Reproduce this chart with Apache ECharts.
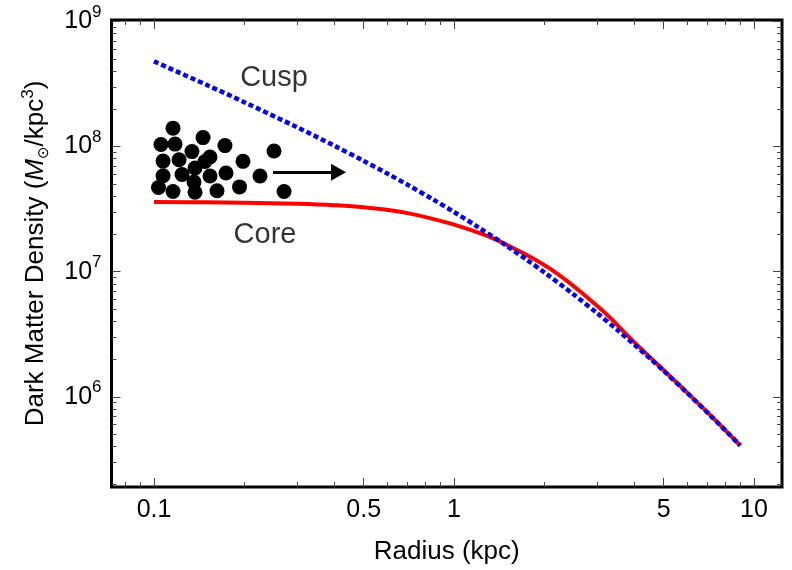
<!DOCTYPE html>
<html>
<head>
<meta charset="utf-8">
<script src="https://cdn.jsdelivr.net/npm/echarts@6/dist/echarts.min.js"></script>
<style>html,body{margin:0;padding:0;background:#fff;}#c{width:792px;height:570px;}</style>
</head>
<body>
<div id="c"></div>
<script>
// ---- data ----
const cuspRadius = [0.1, 0.15, 0.2, 0.3, 0.4, 0.5, 0.6, 0.7, 0.85, 1.0, 1.2, 1.5, 1.75, 2.0, 2.5, 3.0, 3.5, 4.0, 4.5, 5, 6, 7, 8, 9];
const cuspDensity = [4.80e8, 3.108e8, 2.265e8, 1.427e8, 1.013e8, 7.685e7, 6.08e7, 4.954e7, 3.79e7, 3.001e7, 2.283e7, 1.6055e7, 1.2433e7, 9.877e6, 6.598e6, 4.66e6, 3.428e6, 2.603e6, 2.027e6, 1.611e6, 1.069e6, 7.47e5, 5.43e5, 4.08e5];
const coreRadius = [0.1, 0.15, 0.2, 0.3, 0.4, 0.5, 0.7, 1.0, 1.2, 1.42, 2.09, 3.07, 3.95, 5.0, 6, 7, 8, 9];
const coreDensity = [3.61e7, 3.59e7, 3.56e7, 3.49e7, 3.40e7, 3.27e7, 2.94e7, 2.38e7, 2.06e7, 1.75e7, 1.057e7, 5.07e6, 2.80e6, 1.63e6, 1.075e6, 7.5e5, 5.44e5, 4.08e5];
const dotRadius = [0.1157, 0.1055, 0.1175, 0.1457, 0.1724, 0.1338, 0.1072, 0.1212, 0.1537, 0.1479, 0.1980, 0.2512, 0.1072, 0.1240, 0.1370, 0.1537, 0.1738, 0.2256, 0.1035, 0.1157, 0.1359, 0.1370, 0.1622, 0.1928, 0.2713];
const dotDensity = [1.404e8, 1.038e8, 1.047e8, 1.18e8, 1.018e8, 9.12e7, 7.66e7, 7.85e7, 8.25e7, 7.60e7, 7.62e7, 9.21e7, 5.85e7, 5.98e7, 6.74e7, 5.82e7, 6.15e7, 5.82e7, 4.71e7, 4.38e7, 5.21e7, 4.32e7, 4.44e7, 4.76e7, 4.38e7];
const arrowFrom = [0.2492, 6.24e7];
const arrowTo = [0.4121, 6.24e7];
const annotations = [[0.2512, 3.546e8, 'Cusp'], [0.2344, 1.954e7, 'Core']];
const xLabelValues = [0.1, 0.5, 1, 5, 10];
const xMinorValues = [0.08, 0.09, 0.2, 0.3, 0.4, 0.6, 0.7, 0.8, 0.9, 2, 3, 4, 6, 7, 8, 9];
const yLabelValues = [1e6, 1e7, 1e8, 1e9];
const yMinorValues = [2e5,3e5,4e5,5e5,6e5,7e5,8e5,9e5,2e6,3e6,4e6,5e6,6e6,7e6,8e6,9e6,2e7,3e7,4e7,5e7,6e7,7e7,8e7,9e7,2e8,3e8,4e8,5e8,6e8,7e8,8e8,9e8];

const X_MIN = 0.07216, X_MAX = 12.40, Y_MIN = 1.90e5, Y_MAX = 1.028e9;
const FONT = '"Liberation Sans", Arial, "DejaVu Sans", sans-serif';
const TXT = '#000';
const TICK = {color: '#444', width: 1};

function xAx(pos, ticks, len, labels, extra) {
  return Object.assign({
    type: 'log', logBase: 10, min: X_MIN, max: X_MAX, position: pos,
    axisLine: {show: false}, splitLine: {show: false},
    axisTick: {show: true, inside: true, length: len, lineStyle: TICK, customValues: ticks},
    axisLabel: labels ? {show: true, customValues: labels, margin: 11, fontSize: 25, fontFamily: FONT, color: TXT,
      formatter: v => String(Number(Number(v).toPrecision(3)))} : {show: false}
  }, extra || {});
}
function yAx(pos, ticks, len, labels, extra) {
  return Object.assign({
    type: 'log', logBase: 10, min: Y_MIN, max: Y_MAX, position: pos,
    axisLine: {show: false}, splitLine: {show: false},
    axisTick: {show: true, inside: true, length: len, lineStyle: TICK, customValues: ticks},
    axisLabel: labels ? {show: true, customValues: labels, margin: 10, fontFamily: FONT, color: TXT,
      formatter: v => '{b|10}{s|' + Math.round(Math.log10(v)) + '}',
      rich: {b: {fontSize: 25, lineHeight: 36, fontFamily: FONT, color: TXT},
             s: {fontSize: 17, lineHeight: 17, verticalAlign: 'top', fontFamily: FONT, color: TXT}}} : {show: false}
  }, extra || {});
}

const chart = echarts.init(document.getElementById('c'), null, {renderer: 'canvas'});
chart.setOption({
  animation: false,
  backgroundColor: '#fff',
  grid: {left: 111.5, right: 10, top: 20, bottom: 81.5, show: true, borderColor: '#000', borderWidth: 3, backgroundColor: '#fff'},
  xAxis: [
    xAx('bottom', xLabelValues, 9, xLabelValues, {
      name: 'Radius (kpc)', nameLocation: 'middle', nameGap: 52,
      nameTextStyle: {fontSize: 26, fontFamily: FONT, color: TXT}}),
    xAx('bottom', xMinorValues, 5, null),
    xAx('top', xLabelValues, 9, null),
    xAx('top', xMinorValues, 5, null)
  ],
  yAxis: [
    yAx('left', yLabelValues, 9, yLabelValues, {
      name: '{n|Dark Matter Density (}{i|M}{sub|⊙}{n|/kpc}{sup|3}{n|)}',
      nameLocation: 'middle', nameGap: 60, nameRotate: 90,
      nameTextStyle: {rich: {
        n: {fontSize: 26, lineHeight: 32, fontFamily: FONT, color: TXT},
        i: {fontSize: 26, lineHeight: 32, fontStyle: 'italic', fontFamily: FONT, color: TXT},
        sub: {fontSize: 15, lineHeight: 15, verticalAlign: 'bottom', fontFamily: '"DejaVu Sans", sans-serif', color: TXT},
        sup: {fontSize: 17, lineHeight: 17, verticalAlign: 'top', fontFamily: FONT, color: TXT}
      }}}),
    yAx('left', yMinorValues, 5, null),
    yAx('right', yLabelValues, 9, null),
    yAx('right', yMinorValues, 5, null)
  ],
  series: [
    {
      name: 'Core', type: 'line', xAxisIndex: 0, yAxisIndex: 0,
      data: coreRadius.map((r, i) => [r, coreDensity[i]]),
      showSymbol: false, symbol: 'none', smooth: 0.4,
      lineStyle: {color: '#ff0000', width: 4}, z: 3
    },
    {
      name: 'Cusp', type: 'line', xAxisIndex: 0, yAxisIndex: 0,
      data: cuspRadius.map((r, i) => [r, cuspDensity[i]]),
      showSymbol: false, symbol: 'none', smooth: 0.3,
      lineStyle: {color: '#0000ff', width: 4.5, type: [5, 3], cap: 'butt'}, z: 4
    },
    {
      name: 'Dwarfs', type: 'scatter', xAxisIndex: 0, yAxisIndex: 0,
      data: dotRadius.map((r, i) => [r, dotDensity[i]]),
      symbol: 'circle', symbolSize: 15, itemStyle: {color: '#000', opacity: 1}, z: 5,
      markLine: {
        silent: true, animation: false,
        symbol: ['none', 'triangle'], symbolSize: [17, 15],
        lineStyle: {color: '#000', width: 3, type: 'solid'},
        label: {show: false},
        data: [[{coord: arrowFrom}, {coord: arrowTo}]]
      }
    },
    {
      name: 'labels', type: 'scatter', xAxisIndex: 0, yAxisIndex: 0,
      data: annotations, symbolSize: 1, itemStyle: {color: 'transparent'}, z: 6,
      label: {show: true, position: 'inside', formatter: p => p.data[2], fontSize: 29, fontFamily: FONT, color: TXT}
    }
  ]
});
</script>
</body>
</html>
